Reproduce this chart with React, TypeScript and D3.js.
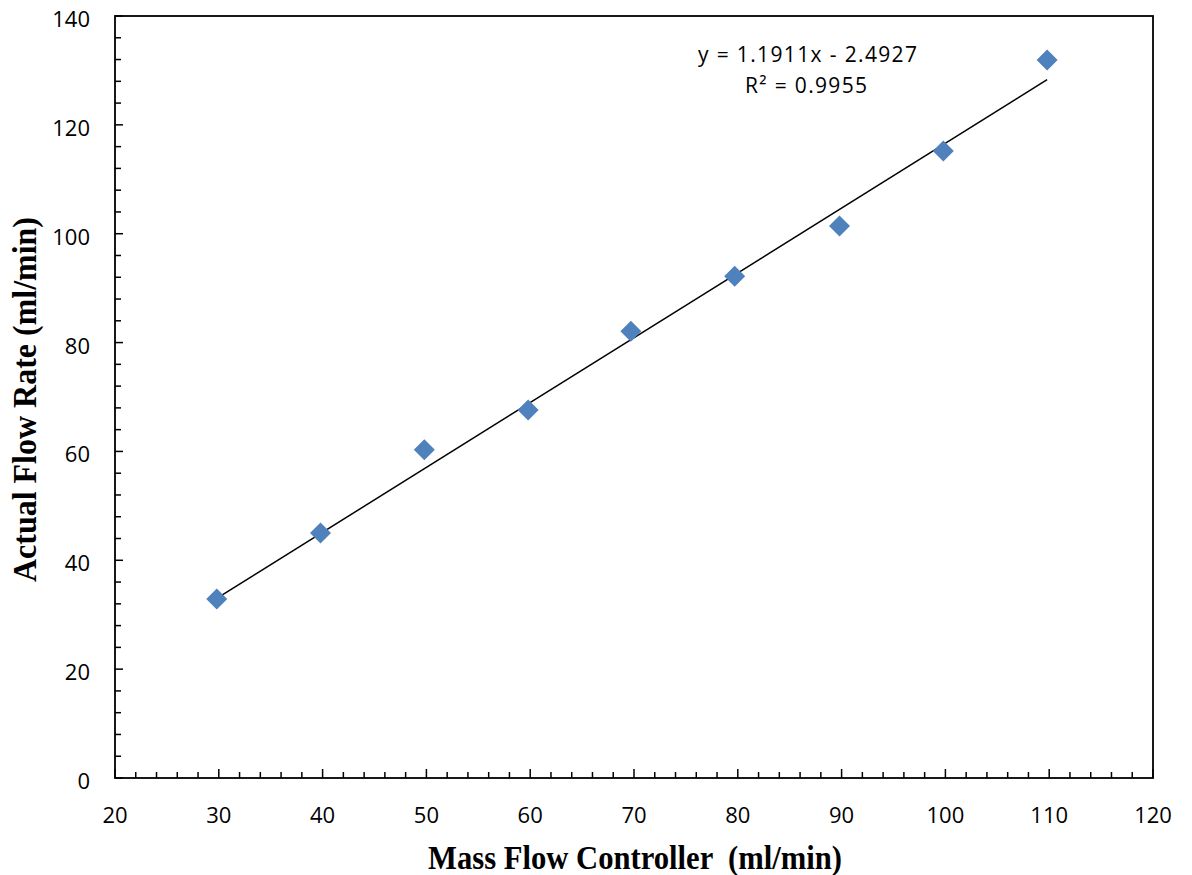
import React from "react";
import * as d3 from "d3";

const xValues = [29.8, 39.8, 49.8, 59.8, 69.7, 79.7, 89.8, 99.8, 109.8];
const yValues = [32.9, 45.0, 60.3, 67.6, 82.1, 92.2, 101.4, 115.2, 131.9];
const xTicks = [20, 30, 40, 50, 60, 70, 80, 90, 100, 110, 120];
const yTicks = [0, 20, 40, 60, 80, 100, 120, 140];
const slope = 1.1911;
const intercept = -2.4927;
const equationText = "y = 1.1911x - 2.4927";
const r2Text = "R² = 0.9955";
const xTitle = "Mass Flow Controller  (ml/min)";
const yTitle = "Actual Flow Rate (ml/min)";

const W = 1192, H = 875;
const L = 115, R = 1153, T = 16, B = 778;

export default function App() {
  const x = d3.scaleLinear().domain([20, 120]).range([L, R]);
  const y = d3.scaleLinear().domain([0, 140]).range([B, T]);
  const xMinor = d3.range(20, 120.001, 2);
  const yMinor = d3.range(0, 140.001, 4);
  const x0 = d3.min(xValues)!, x1 = d3.max(xValues)!;
  const line = d3.line<number>().x(d => x(d)).y(d => y(slope * d + intercept));
  const tickFont = "'Open Sans', 'Noto Sans', sans-serif";
  const titleFont = "'Liberation Serif', 'Times New Roman', serif";
  const half = 10.5;
  const diamond = `M0,${-half}L${half},0L0,${half}L${-half},0Z`;
  return (
    <svg width={W} height={H} style={{ position: "absolute", left: 0, top: 0 }}>
      <rect x={0} y={0} width={W} height={H} fill="#fff" />
      {xMinor.map((v, i) => (
        <line key={"xm" + i} x1={x(v)} x2={x(v)} y1={B} y2={B - (v % 10 === 0 ? 9 : 6)} stroke="#000" strokeWidth={1.5} />
      ))}
      {yMinor.map((v, i) => (
        <line key={"ym" + i} x1={L} x2={L + (v % 20 === 0 ? 8 : 6)} y1={y(v)} y2={y(v)} stroke="#000" strokeWidth={1.5} />
      ))}
      <rect x={L} y={T} width={R - L} height={B - T} fill="none" stroke="#000" strokeWidth={1.8} />
      {xTicks.map(v => (
        <text key={"xt" + v} x={x(v)} y={823} textAnchor="middle" fontFamily={tickFont} fontSize={22} fill="#000">{v}</text>
      ))}
      {yTicks.map(v => (
        <text key={"yt" + v} x={90} y={y(v) + 11} textAnchor="end" fontFamily={tickFont} fontSize={22} fill="#000">{v}</text>
      ))}
      <path d={line([x0, x1]) || ""} stroke="#000" strokeWidth={1.5} fill="none" />
      {xValues.map((v, i) => (
        <path key={"p" + i} d={diamond} transform={`translate(${x(v)},${y(yValues[i])})`} fill="#4F81BD" />
      ))}
      <text x={698} y={62} fontFamily={tickFont} fontSize={21} fill="#000" textLength={219} lengthAdjust="spacing">{equationText}</text>
      <text x={745} y={93} fontFamily={tickFont} fontSize={21} fill="#000" textLength={122} lengthAdjust="spacing">{r2Text}</text>
      <text x={428} y={869} fontFamily={titleFont} fontWeight="bold" fontSize={33} fill="#000" textLength={414} lengthAdjust="spacingAndGlyphs" style={{ whiteSpace: "pre" }}>{xTitle}</text>
      <text transform={`translate(36,582) rotate(-90)`} fontFamily={titleFont} fontWeight="bold" fontSize={33} fill="#000" textLength={365} lengthAdjust="spacingAndGlyphs">{yTitle}</text>
    </svg>
  );
}
